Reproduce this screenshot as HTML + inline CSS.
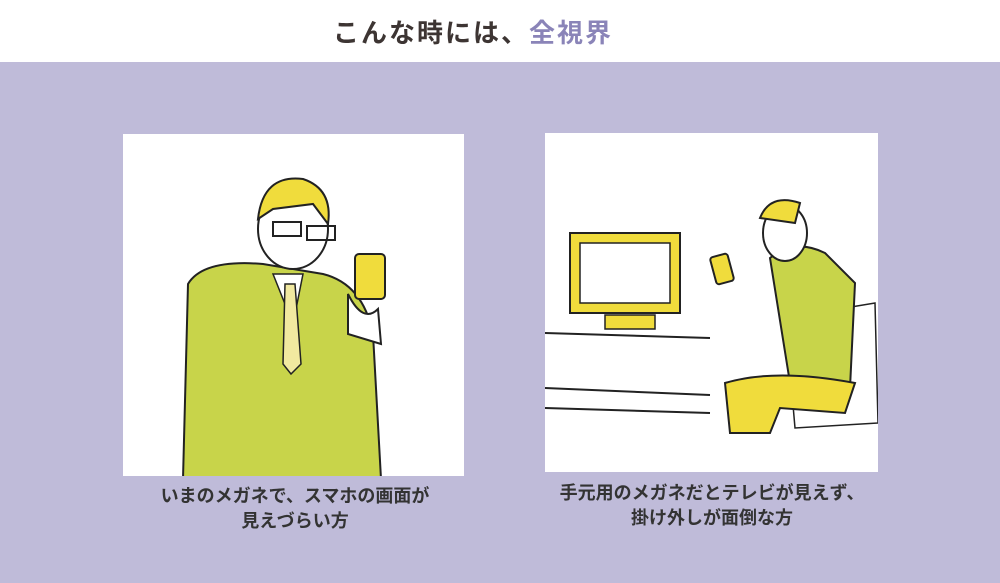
<!DOCTYPE html>
<html><head><meta charset="utf-8"><style>
html,body{margin:0;padding:0}
body{width:1000px;height:583px;background:#bfbbd9;position:relative;overflow:hidden;font-family:"Liberation Sans","Noto Sans CJK JP",sans-serif}
.top{position:absolute;left:0;top:0;width:1000px;height:62px;background:#fff}
.title{position:absolute;left:333px;top:13px;font-size:26px;font-weight:bold;color:#3d3533;letter-spacing:2px;white-space:nowrap}
.title span{color:#8a84b8}
.p{position:absolute;background:#fff}
.cap{position:absolute;text-align:center;font-size:18px;font-weight:bold;color:#333;line-height:25px;white-space:nowrap}
</style></head><body>
<div class="top"></div>
<div class="title">こんな時には、<span>全視界</span></div>
<div class="p" style="left:123px;top:134px;width:341px;height:342px">
<svg width="341" height="342">
<path d="M60 345 L65 150 Q80 125 140 130 L200 140 Q240 150 250 200 L258 345 Z" fill="#c8d44a" stroke="#222" stroke-width="2"/>
<path d="M150 140 L170 190 L180 140 Z" fill="#fff" stroke="#222" stroke-width="1.5"/>
<path d="M162 150 L172 150 L178 230 L168 240 L160 230 Z" fill="#f1e9a0" stroke="#222" stroke-width="1.5"/>
<ellipse cx="170" cy="95" rx="35" ry="40" fill="#fff" stroke="#222" stroke-width="2"/>
<path d="M135 85 Q140 40 180 45 Q210 55 205 90 L190 70 L150 75 Z" fill="#f0dc3c" stroke="#222" stroke-width="2"/>
<rect x="150" y="88" width="28" height="14" fill="none" stroke="#222" stroke-width="2"/>
<rect x="184" y="92" width="28" height="14" fill="none" stroke="#222" stroke-width="2"/>
<rect x="232" y="120" width="30" height="45" rx="4" fill="#f0dc3c" stroke="#222" stroke-width="2"/>
<path d="M225 160 Q240 190 255 175 L258 210 L225 200 Z" fill="#fff" stroke="#222" stroke-width="2"/>
</svg></div>
<div class="p" style="left:545px;top:133px;width:333px;height:339px">
<svg width="333" height="339">
<rect x="25" y="100" width="110" height="80" fill="#f0dc3c" stroke="#222" stroke-width="2"/>
<rect x="35" y="110" width="90" height="60" fill="#fff" stroke="#222" stroke-width="1.5"/>
<rect x="60" y="182" width="50" height="14" fill="#f0dc3c" stroke="#222" stroke-width="1.5"/>
<path d="M0 200 L165 205 M0 255 L165 262 M0 275 L165 280" stroke="#222" stroke-width="2" fill="none"/>
<path d="M240 180 L300 175 L330 170 L333 290 L250 295 Z" fill="#fff" stroke="#222" stroke-width="1.5"/>
<path d="M225 125 Q250 105 280 120 L310 150 L305 255 L245 250 Z" fill="#c8d44a" stroke="#222" stroke-width="2"/>
<path d="M180 250 Q230 235 310 250 L300 280 L235 275 L225 300 L185 300 Z" fill="#f0dc3c" stroke="#222" stroke-width="2"/>
<ellipse cx="240" cy="100" rx="22" ry="28" fill="#fff" stroke="#222" stroke-width="2"/>
<path d="M215 85 Q225 60 255 70 L250 90 Z" fill="#f0dc3c" stroke="#222" stroke-width="2"/>
<rect x="168" y="122" width="18" height="28" rx="3" fill="#f0dc3c" stroke="#222" stroke-width="2" transform="rotate(-15 177 136)"/>
</svg></div>
<div class="cap" style="left:95px;width:400px;top:484px">いまのメガネで、スマホの画面が<br>見えづらい方</div>
<div class="cap" style="left:512px;width:400px;top:481px">手元用のメガネだとテレビが見えず、<br>掛け外しが面倒な方</div>
</body></html>
